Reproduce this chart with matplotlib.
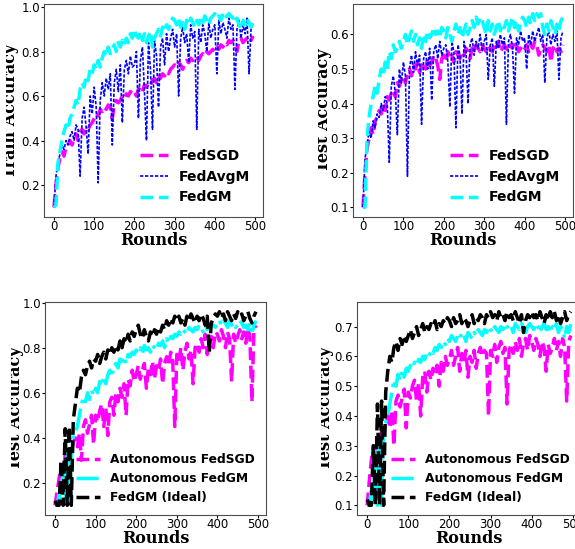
import matplotlib
matplotlib.use("Agg")
import matplotlib.pyplot as plt
from matplotlib.transforms import Bbox, TransformedBbox
import numpy as np

# rounds sampled every 5
rounds = np.arange(0, 500, 5)

# top-left: train accuracy
tr_sgd = [0.10, 0.20, 0.28, 0.32, 0.35, 0.33, 0.37, 0.38, 0.40, 0.38,
          0.41, 0.43, 0.40, 0.44, 0.45, 0.43, 0.46, 0.45, 0.47, 0.48,
          0.50, 0.52, 0.51, 0.54, 0.53, 0.55, 0.54, 0.56, 0.55, 0.50,
          0.56, 0.58, 0.57, 0.58, 0.60, 0.59, 0.61, 0.60, 0.62, 0.61,
          0.62, 0.60, 0.63, 0.64, 0.62, 0.65, 0.64, 0.66, 0.65, 0.67,
          0.68, 0.66, 0.69, 0.68, 0.70, 0.69, 0.71, 0.70, 0.72, 0.73,
          0.74, 0.73, 0.75, 0.74, 0.72, 0.75, 0.76, 0.75, 0.77, 0.76,
          0.77, 0.78, 0.76, 0.78, 0.79, 0.78, 0.80, 0.79, 0.80, 0.81,
          0.80, 0.82, 0.81, 0.83, 0.82, 0.84, 0.83, 0.85, 0.84, 0.85,
          0.84, 0.80, 0.85, 0.86, 0.84, 0.85, 0.86, 0.87, 0.85, 0.87]
tr_avgm = [0.10, 0.24, 0.30, 0.34, 0.38, 0.36, 0.40, 0.38, 0.42, 0.44,
           0.40, 0.47, 0.45, 0.24, 0.50, 0.55, 0.46, 0.34, 0.60, 0.52,
           0.64, 0.55, 0.21, 0.58, 0.66, 0.60, 0.68, 0.63, 0.70, 0.38,
           0.66, 0.72, 0.62, 0.74, 0.48, 0.72, 0.76, 0.70, 0.78, 0.73,
           0.74, 0.80, 0.50, 0.76, 0.82, 0.62, 0.40, 0.84, 0.72, 0.45,
           0.85, 0.78, 0.55, 0.82, 0.86, 0.74, 0.88, 0.80, 0.86, 0.90,
           0.82, 0.88, 0.60, 0.86, 0.91, 0.84, 0.88, 0.75, 0.92, 0.86,
           0.89, 0.45, 0.90, 0.84, 0.92, 0.88, 0.80, 0.93, 0.86, 0.90,
           0.92, 0.70, 0.94, 0.88, 0.93, 0.90, 0.86, 0.95, 0.90, 0.92,
           0.63, 0.90, 0.94, 0.86, 0.92, 0.88, 0.95, 0.70, 0.90, 0.93]
tr_gm = [0.10, 0.11, 0.30, 0.35, 0.40, 0.44, 0.47, 0.45, 0.50, 0.52,
         0.55, 0.58, 0.56, 0.63, 0.66, 0.64, 0.69, 0.67, 0.72, 0.70,
         0.74, 0.72, 0.76, 0.73, 0.77, 0.80, 0.78, 0.82, 0.79, 0.81,
         0.83, 0.80, 0.84, 0.82, 0.85, 0.83, 0.86, 0.84, 0.88, 0.86,
         0.90, 0.87, 0.86, 0.89, 0.85, 0.88, 0.84, 0.87, 0.89, 0.82,
         0.86, 0.88, 0.90, 0.87, 0.91, 0.89, 0.92, 0.90, 0.93, 0.95,
         0.94, 0.92, 0.95, 0.91, 0.93, 0.90, 0.94, 0.92, 0.95, 0.93,
         0.91, 0.94, 0.92, 0.95, 0.93, 0.96, 0.94, 0.92, 0.95, 0.96,
         0.97, 0.95, 0.96, 0.94, 0.97, 0.95, 0.96, 0.97, 0.96, 0.95,
         0.93, 0.95, 0.92, 0.90, 0.94, 0.92, 0.95, 0.93, 0.91, 0.94]

# top-right: test accuracy
te_sgd = [0.10, 0.20, 0.27, 0.30, 0.33, 0.31, 0.35, 0.36, 0.38, 0.37,
          0.40, 0.38, 0.42, 0.41, 0.43, 0.44, 0.42, 0.46, 0.45, 0.47,
          0.48, 0.46, 0.49, 0.50, 0.48, 0.51, 0.50, 0.52, 0.49, 0.51,
          0.52, 0.50, 0.53, 0.51, 0.52, 0.54, 0.53, 0.51, 0.47, 0.53,
          0.54, 0.52, 0.55, 0.53, 0.54, 0.52, 0.55, 0.54, 0.53, 0.55,
          0.54, 0.56, 0.55, 0.53, 0.56, 0.55, 0.57, 0.56, 0.55, 0.57,
          0.56, 0.55, 0.57, 0.56, 0.55, 0.57, 0.56, 0.58, 0.55, 0.56,
          0.57, 0.56, 0.55, 0.57, 0.56, 0.58, 0.57, 0.55, 0.56, 0.57,
          0.56, 0.57, 0.55, 0.57, 0.56, 0.58, 0.57, 0.54, 0.56, 0.57,
          0.56, 0.55, 0.57, 0.52, 0.56, 0.57, 0.55, 0.56, 0.55, 0.57]
te_avgm = [0.10, 0.24, 0.28, 0.32, 0.30, 0.35, 0.33, 0.37, 0.36, 0.40,
           0.38, 0.42, 0.40, 0.23, 0.45, 0.48, 0.43, 0.31, 0.50, 0.46,
           0.52, 0.48, 0.19, 0.50, 0.54, 0.49, 0.55, 0.51, 0.54, 0.34,
           0.53, 0.55, 0.50, 0.56, 0.41, 0.55, 0.57, 0.53, 0.58, 0.54,
           0.56, 0.57, 0.52, 0.39, 0.58, 0.55, 0.33, 0.57, 0.54, 0.37,
           0.58, 0.55, 0.40, 0.57, 0.59, 0.54, 0.58, 0.56, 0.60, 0.55,
           0.58, 0.60, 0.47, 0.57, 0.59, 0.45, 0.58, 0.56, 0.60, 0.57,
           0.59, 0.34, 0.58, 0.60, 0.56, 0.43, 0.59, 0.57, 0.61, 0.58,
           0.59, 0.50, 0.60, 0.57, 0.61, 0.58, 0.60, 0.62, 0.58, 0.60,
           0.46, 0.59, 0.61, 0.57, 0.60, 0.58, 0.61, 0.47, 0.59, 0.61]
te_gm = [0.10, 0.10, 0.30, 0.36, 0.40, 0.42, 0.45, 0.43, 0.47, 0.50,
         0.48, 0.52, 0.50, 0.55, 0.53, 0.57, 0.55, 0.56, 0.58, 0.56,
         0.58, 0.60, 0.57, 0.59, 0.61, 0.58, 0.60, 0.57, 0.59, 0.56,
         0.60, 0.58, 0.61, 0.59, 0.60, 0.62, 0.60, 0.61, 0.59, 0.62,
         0.61, 0.59, 0.62, 0.60, 0.58, 0.61, 0.63, 0.60, 0.62, 0.59,
         0.61, 0.63, 0.60, 0.62, 0.64, 0.62, 0.65, 0.63, 0.65, 0.64,
         0.62, 0.60, 0.64, 0.61, 0.63, 0.60, 0.62, 0.64, 0.61, 0.63,
         0.62, 0.64, 0.61, 0.63, 0.65, 0.62, 0.64, 0.61, 0.63, 0.65,
         0.64, 0.62, 0.65, 0.63, 0.66, 0.64, 0.66, 0.65, 0.66, 0.62,
         0.60, 0.63, 0.61, 0.64, 0.62, 0.60, 0.63, 0.61, 0.64, 0.65]

# bottom-left
b1_asgd = [0.10, 0.16, 0.22, 0.28, 0.25, 0.32, 0.30, 0.35, 0.33, 0.38,
           0.40, 0.36, 0.42, 0.30, 0.45, 0.48, 0.42, 0.46, 0.50, 0.37,
           0.50, 0.47, 0.52, 0.55, 0.45, 0.53, 0.41, 0.56, 0.58, 0.50,
           0.60, 0.56, 0.62, 0.58, 0.64, 0.50, 0.66, 0.63, 0.70, 0.65,
           0.68, 0.72, 0.66, 0.70, 0.73, 0.62, 0.71, 0.68, 0.74, 0.66,
           0.72, 0.70, 0.75, 0.64, 0.73, 0.76, 0.72, 0.78, 0.74, 0.45,
           0.77, 0.74, 0.80, 0.70, 0.78, 0.82, 0.75, 0.79, 0.64, 0.80,
           0.82, 0.78, 0.84, 0.80, 0.86, 0.77, 0.83, 0.85, 0.80, 0.87,
           0.86, 0.83, 0.88, 0.85, 0.80, 0.87, 0.84, 0.65, 0.86, 0.82,
           0.85, 0.88, 0.84, 0.87, 0.82, 0.89, 0.85, 0.56, 0.88, 0.90]
b1_agm = [0.10, 0.10, 0.15, 0.10, 0.28, 0.10, 0.35, 0.10, 0.33, 0.40,
          0.42, 0.45, 0.50, 0.55, 0.58, 0.56, 0.60, 0.57, 0.61, 0.59,
          0.62, 0.60, 0.65, 0.63, 0.67, 0.64, 0.68, 0.70, 0.67, 0.72,
          0.73, 0.71, 0.75, 0.74, 0.76, 0.73, 0.77, 0.76, 0.78, 0.77,
          0.79, 0.78, 0.80, 0.77, 0.81, 0.79, 0.80, 0.78, 0.81, 0.80,
          0.79, 0.82, 0.81, 0.83, 0.80, 0.84, 0.82, 0.85, 0.84, 0.86,
          0.85, 0.87, 0.86, 0.88, 0.87, 0.86, 0.89, 0.88, 0.87, 0.89,
          0.88, 0.90, 0.89, 0.87, 0.90, 0.88, 0.89, 0.91, 0.90, 0.89,
          0.91, 0.92, 0.90, 0.92, 0.91, 0.89, 0.92, 0.90, 0.91, 0.89,
          0.90, 0.92, 0.91, 0.89, 0.90, 0.88, 0.91, 0.86, 0.90, 0.92]
b1_ideal = [0.12, 0.10, 0.10, 0.30, 0.10, 0.44, 0.10, 0.45, 0.10, 0.48,
            0.55, 0.62, 0.60, 0.67, 0.70, 0.68, 0.72, 0.74, 0.71, 0.75,
            0.74, 0.77, 0.73, 0.76, 0.78, 0.75, 0.79, 0.77, 0.80, 0.78,
            0.81, 0.79, 0.83, 0.80, 0.84, 0.82, 0.86, 0.83, 0.87, 0.85,
            0.88, 0.90, 0.86, 0.84, 0.88, 0.85, 0.83, 0.87, 0.85, 0.88,
            0.86, 0.89, 0.87, 0.90, 0.88, 0.92, 0.90, 0.93, 0.91, 0.94,
            0.92, 0.94, 0.91, 0.93, 0.90, 0.94, 0.92, 0.95, 0.93, 0.91,
            0.94, 0.92, 0.95, 0.93, 0.90, 0.94, 0.78, 0.91, 0.93, 0.95,
            0.94, 0.96, 0.93, 0.95, 0.92, 0.96, 0.94, 0.92, 0.95, 0.93,
            0.96, 0.94, 0.95, 0.92, 0.94, 0.96, 0.93, 0.91, 0.94, 0.96]

# bottom-right
b2_asgd = [0.10, 0.18, 0.25, 0.30, 0.27, 0.32, 0.30, 0.35, 0.33, 0.38,
           0.40, 0.36, 0.42, 0.30, 0.45, 0.47, 0.43, 0.46, 0.49, 0.36,
           0.48, 0.46, 0.50, 0.52, 0.45, 0.51, 0.40, 0.53, 0.55, 0.48,
           0.55, 0.52, 0.56, 0.54, 0.57, 0.50, 0.58, 0.55, 0.60, 0.57,
           0.59, 0.62, 0.57, 0.60, 0.63, 0.55, 0.61, 0.58, 0.62, 0.53,
           0.60, 0.58, 0.62, 0.56, 0.61, 0.63, 0.60, 0.62, 0.61, 0.40,
           0.62, 0.60, 0.64, 0.58, 0.63, 0.65, 0.61, 0.63, 0.44, 0.62,
           0.64, 0.61, 0.65, 0.62, 0.66, 0.60, 0.64, 0.66, 0.62, 0.67,
           0.65, 0.62, 0.66, 0.64, 0.60, 0.65, 0.63, 0.55, 0.64, 0.61,
           0.63, 0.66, 0.62, 0.65, 0.60, 0.66, 0.63, 0.45, 0.65, 0.67]
b2_agm = [0.10, 0.10, 0.15, 0.10, 0.28, 0.10, 0.33, 0.10, 0.36, 0.38,
          0.40, 0.44, 0.48, 0.52, 0.50, 0.54, 0.52, 0.55, 0.53, 0.56,
          0.55, 0.57, 0.56, 0.58, 0.57, 0.59, 0.58, 0.60, 0.59, 0.61,
          0.60, 0.62, 0.61, 0.63, 0.62, 0.64, 0.63, 0.65, 0.64, 0.66,
          0.65, 0.67, 0.66, 0.65, 0.67, 0.66, 0.68, 0.67, 0.65, 0.68,
          0.67, 0.66, 0.68, 0.67, 0.69, 0.68, 0.67, 0.69, 0.68, 0.70,
          0.69, 0.68, 0.70, 0.69, 0.68, 0.70, 0.69, 0.71, 0.70, 0.69,
          0.70, 0.68, 0.71, 0.70, 0.69, 0.71, 0.70, 0.68, 0.70, 0.71,
          0.70, 0.69, 0.71, 0.70, 0.68, 0.70, 0.71, 0.69, 0.70, 0.68,
          0.70, 0.69, 0.71, 0.68, 0.70, 0.69, 0.66, 0.70, 0.68, 0.71]
b2_ideal = [0.12, 0.10, 0.10, 0.30, 0.10, 0.44, 0.10, 0.45, 0.10, 0.48,
            0.55, 0.60, 0.58, 0.63, 0.65, 0.62, 0.66, 0.64, 0.67, 0.65,
            0.67, 0.69, 0.66, 0.68, 0.70, 0.67, 0.69, 0.71, 0.68, 0.70,
            0.69, 0.71, 0.70, 0.72, 0.69, 0.71, 0.70, 0.72, 0.71, 0.73,
            0.72, 0.70, 0.73, 0.71, 0.72, 0.74, 0.71, 0.73, 0.72, 0.70,
            0.72, 0.74, 0.71, 0.73, 0.72, 0.74, 0.73, 0.71, 0.74, 0.73,
            0.75, 0.73, 0.74, 0.72, 0.75, 0.73, 0.74, 0.72, 0.75, 0.73,
            0.74, 0.72, 0.75, 0.73, 0.71, 0.74, 0.68, 0.72, 0.74, 0.73,
            0.75, 0.73, 0.74, 0.72, 0.75, 0.73, 0.71, 0.74, 0.72, 0.75,
            0.73, 0.75, 0.72, 0.74, 0.71, 0.73, 0.75, 0.72, 0.74, 0.75]

W, H = 575, 549
fig = plt.figure(figsize=(W / 100, H / 100), dpi=100)

# axes boxes in pixels: left, top, width, height
boxes = [(44, 4, 219, 213), (353, 4, 220, 213),
         (45, 302, 221, 213), (357, 302, 224, 213)]
axes = [fig.add_axes([l / W, 1 - (t + h) / H, w / W, h / H]) for l, t, w, h in boxes]

# ylabel right edge and left clip edge (pixels), the source images were cropped
ylab_right = [19, 331.5, 24, 334]
ylab_clip = [6, 318.2, 10.8, 320.5]

label_font = dict(family='DejaVu Serif', weight='bold', size=11.5)

def style(ax, i, ylabel):
    ax.set_xlabel('Rounds', fontdict=label_font, labelpad=-1)
    ax.set_ylabel(ylabel, fontdict=label_font)
    l = boxes[i][0]
    w = boxes[i][2]
    ax.yaxis.set_label_coords((ylab_right[i] - l) / w, 0.5)
    lab = ax.yaxis.label
    lab.set_clip_on(True)
    lab.set_clip_box(TransformedBbox(Bbox.from_extents(ylab_clip[i] / W, 0, 1, 1),
                                     fig.transFigure))
    ax.tick_params(labelsize=8.5, length=2, pad=1)
    ax.tick_params(axis='x', pad=0.5)
    for s in ax.spines.values():
        s.set_color('0.3')
    ax.set_xticks([0, 100, 200, 300, 400, 500])

# top row
for i, s, a, g, yl in [(0, tr_sgd, tr_avgm, tr_gm, 'Train Accuracy'),
                       (1, te_sgd, te_avgm, te_gm, 'Test Accuracy')]:
    ax = axes[i]
    ax.plot(rounds, s, color='#ff00ff', ls='--', lw=2.5, label='FedSGD')
    ax.plot(rounds, a, color='#0000ff', ls=(0, (2, 1)), lw=1.2, label='FedAvgM')
    ax.plot(rounds, g, color='#00ffff', ls='--', lw=2.5, label='FedGM')
    style(ax, i, yl)
    ax.legend(loc='lower right', frameon=False, prop=dict(weight='bold', size=10))

# bottom row
for i, s, a, g in [(2, b1_asgd, b1_agm, b1_ideal),
                   (3, b2_asgd, b2_agm, b2_ideal)]:
    ax = axes[i]
    ax.plot(rounds, s, color='#ff00ff', ls='--', lw=2.5, label='Autonomous FedSGD')
    ax.plot(rounds, a, color='#00ffff', ls='-.', lw=2.5, label='Autonomous FedGM')
    ax.plot(rounds, g, color='black', ls='--', lw=2.5, label='FedGM (Ideal)')
    style(ax, i, 'Test Accuracy')
    ax.legend(loc='lower right', frameon=False, prop=dict(weight='bold', size=8.8))

fig.savefig('out.png', dpi=100)
